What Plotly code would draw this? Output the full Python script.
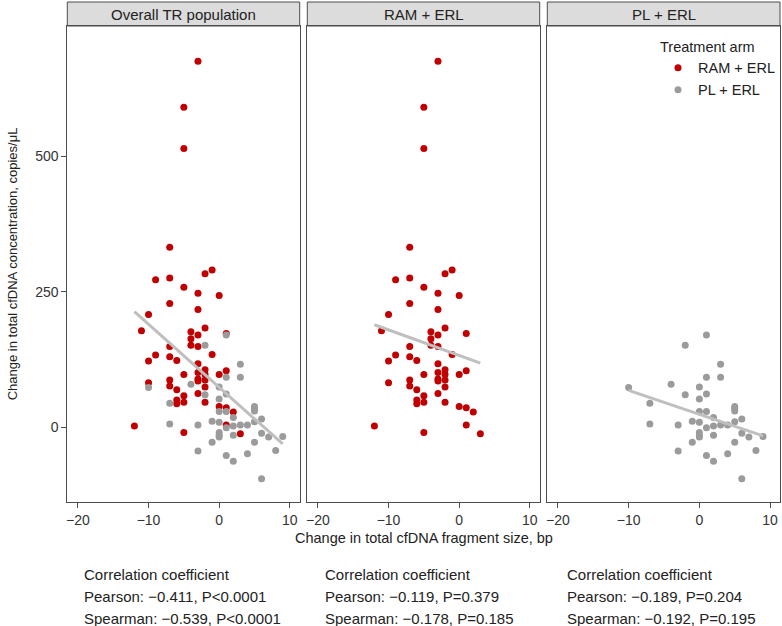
import plotly.graph_objects as go

# ---------------- data ----------------
panel_titles = ["Overall TR population", "RAM + ERL", "PL + ERL"]

ram_x = [-3, -5, -5, -7, -9, -7, -2, -1, -5, -3,
         0, -7, -3, -10, -11, -4, -2, -3, 1, -4,
         -4, -3, -7, -9, -1, -7, -6, -10, -3, -2,
         -3, -2, -5, 0, 1, -3, -2, -3, -10, -7,
         -7, -2, -6, -3, -5, -6, -6, -5, -2, 0,
         1, 2, -12, 1, -5, 3]
ram_y = [675, 590, 514, 332, 272, 275, 283, 290, 258, 247,
         243, 228, 217, 208, 178, 176, 183, 170, 173, 163,
         151, 149, 149, 133, 134, 130, 123, 122, 117, 106,
         101, 97, 97, 97, 104, 89, 87, 85, 82, 87,
         76, 74, 69, 62, 58, 50, 43, 46, 46, 38,
         36, 28, 2, 4, -10, -12]

pl_x = [1, -2, 3, 1, 3, -10, -4, 0, -2, 1,
        0, -7, 0, 1, 5, 5, 5, 2, 6, -1,
        0, 5, -7, -3, 1, 2, 3, 4, 0, 0,
        0, 2, 6, 7, 9, -1, 5, -3, 1, 4,
        8, 2, 6]
pl_y = [170, 151, 116, 92, 92, 73, 79, 74, 60, 61,
        52, 44, 29, 29, 38, 34, 30, 18, 15, 11,
        9, 10, 6, 4, -1, 2, 4, 4, -10, -15,
        -18, -15, -11, -18, -17, -28, -28, -44, -52, -49,
        -43, -63, -95]

# regression lines (end points)
fit_overall_x = [-12, 9]
fit_overall_y = [213, -31]
fit_ram_x = [-12, 3]
fit_ram_y = [189, 118]
fit_pl_x = [-10, 9]
fit_pl_y = [68, -16]

x_ticks = [-20, -10, 0, 10]
y_ticks = [0, 250, 500]

stat_lines = [
    ["Correlation coefficient", "Pearson: \u22120.411, P<0.0001", "Spearman: \u22120.539, P<0.0001"],
    ["Correlation coefficient", "Pearson: \u22120.119, P=0.379", "Spearman: \u22120.178, P=0.185"],
    ["Correlation coefficient", "Pearson: \u22120.189, P=0.204", "Spearman: \u22120.192, P=0.195"],
]

# ---------------- styling ----------------
RED = "#c00000"
GREY = "#9b9b9b"
FIT = "#bfbfbf"
FRAME = "#4d4d4d"
FONT = "Liberation Sans, Arial, sans-serif"
TXT = "#222222"
FS = 14.5

W, H = 782, 626
L, R, T, B = 67, 2, 2, 124
pw = W - L - R
ph = H - T - B

def px_x(p):
    return (p - L) / pw

def px_y(p):
    return (H - B - p) / ph

panel_px = [(67.3, 299.7), (307.3, 539.7), (547.3, 780.0)]
domains = [[max(0, px_x(a)), min(1, px_x(b))] for a, b in panel_px]
strip_top = px_y(2)
strip_bot = px_y(26)

fig = go.Figure()

series = [
    [(ram_x, ram_y, RED, "RAM + ERL", True), (pl_x, pl_y, GREY, "PL + ERL", True)],
    [(ram_x, ram_y, RED, "RAM + ERL", False)],
    [(pl_x, pl_y, GREY, "PL + ERL", False)],
]
fits = [(fit_overall_x, fit_overall_y), (fit_ram_x, fit_ram_y), (fit_pl_x, fit_pl_y)]

for i in range(3):
    xa = "x" if i == 0 else f"x{i+1}"
    ya = "y" if i == 0 else f"y{i+1}"
    for xs, ys, col, name, show in series[i]:
        fig.add_trace(go.Scatter(
            x=xs, y=ys, mode="markers", name=name, showlegend=show,
            legendgroup=name,
            marker=dict(color=col, size=7, line=dict(width=0)),
            xaxis=xa, yaxis=ya, hoverinfo="skip"))
    fx, fy = fits[i]
    fig.add_trace(go.Scatter(
        x=fx, y=fy, mode="lines", showlegend=False,
        line=dict(color=FIT, width=3), xaxis=xa, yaxis=ya, hoverinfo="skip"))

axis_common = dict(showline=True, mirror=True, linecolor=FRAME, linewidth=1,
                   showgrid=False, zeroline=False, ticks="outside", ticklen=5,
                   automargin=False,
                   tickcolor=FRAME, tickfont=dict(size=14, color="#333333", family=FONT))

layout = dict(
    width=W, height=H, margin=dict(l=L, r=R, t=T, b=B, autoexpand=False),
    paper_bgcolor="white", plot_bgcolor="white",
    font=dict(family=FONT, color=TXT, size=FS),
    showlegend=True,
    legend=dict(
        title=dict(text="Treatment arm", font=dict(size=FS, color=TXT)),
        x=1.0, y=px_y(33), xanchor="right", yanchor="top",
        xref="paper", yref="paper",
        bgcolor="rgba(0,0,0,0)", font=dict(size=FS, color=TXT),
        tracegroupgap=0, itemwidth=30,
    ),
)

for i in range(3):
    xk = "xaxis" if i == 0 else f"xaxis{i+1}"
    yk = "yaxis" if i == 0 else f"yaxis{i+1}"
    ya = "y" if i == 0 else f"y{i+1}"
    xa = "x" if i == 0 else f"x{i+1}"
    layout[xk] = dict(axis_common, domain=domains[i], anchor=ya,
                      range=[-21.5, 11.4], tickvals=x_ticks,
                      ticktext=[str(v).replace("-", "\u2212") for v in x_ticks])
    ydict = dict(axis_common, domain=[0, strip_bot], anchor=xa,
                 range=[-138, 740], tickvals=y_ticks,
                 ticktext=[str(v) for v in y_ticks])
    if i > 0:
        ydict["matches"] = "y"
        ydict["showticklabels"] = False
        ydict["ticks"] = ""
    else:
        ydict["title"] = dict(text="Change in total cfDNA concentration, copies/\u03bcL",
                              font=dict(size=13, color=TXT), standoff=14)
    layout[yk] = ydict

fig.update_layout(**layout)

# strips
for i in range(3):
    x0, x1 = domains[i]
    fig.add_shape(type="rect", xref="paper", yref="paper",
                  x0=x0, x1=x1, y0=strip_bot, y1=strip_top,
                  fillcolor="#dcdcdc", line=dict(color=FRAME, width=1), layer="below")
    fig.add_annotation(xref="paper", yref="paper", x=(x0 + x1) / 2,
                       y=(strip_bot + strip_top) / 2, text=panel_titles[i],
                       showarrow=False, font=dict(size=15, color=TXT),
                       xanchor="center", yanchor="middle")

# x-axis title
fig.add_annotation(xref="paper", yref="paper", x=0.5, y=px_y(538),
                   text="Change in total cfDNA fragment size, bp", showarrow=False,
                   font=dict(size=FS, color=TXT), xanchor="center", yanchor="middle")

# correlation text
block_x = [82, 323, 565]
line_y = [574, 596, 618]
for i in range(3):
    for j in range(3):
        fig.add_annotation(xref="paper", yref="paper", x=px_x(block_x[i]), y=px_y(line_y[j]),
                           text=stat_lines[i][j], showarrow=False,
                           font=dict(size=15, color=TXT),
                           xanchor="left", yanchor="middle")

fig.write_html("out.html", config={"displayModeBar": False},
               post_script="document.body.style.margin='0';document.body.style.overflow='hidden';")
